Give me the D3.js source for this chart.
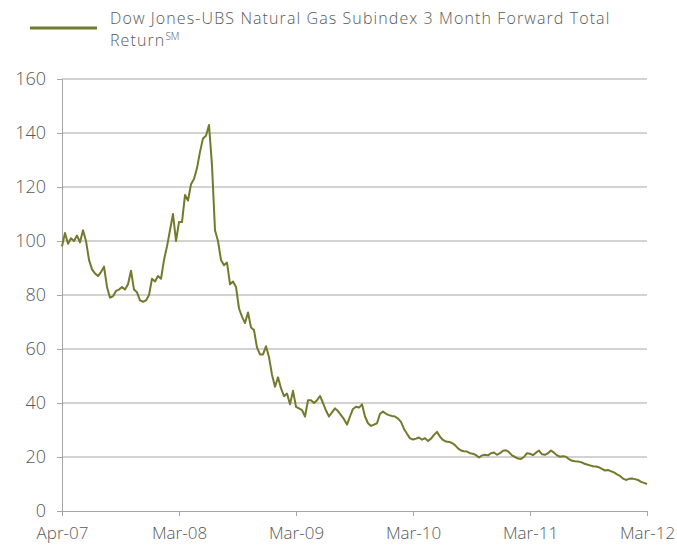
<!DOCTYPE html>
<html><head><meta charset="utf-8">
<script src="https://cdn.jsdelivr.net/npm/d3@7"></script>
<style>body{margin:0;background:#fff}svg{display:block}</style></head>
<body><svg id="c" width="677" height="547"></svg>
<script>
const legendLine1 = "Dow Jones-UBS Natural Gas Subindex 3 Month Forward Total";
const legendLine2 = "Return";
const legendSup = "SM";
const xTickLabels = ["Apr-07","Mar-08","Mar-09","Mar-10","Mar-11","Mar-12"];
const yTicks = [0,20,40,60,80,100,120,140,160];
const values = [
98,103,99,101,100,102,99.5,104,100,93,89.5,88,87,88.5,90.5,83,79,79.5,81.5,82,
83,82,84,89,82,81,78,77.5,78,80,86,85,87,86,93,98,104,110,100,107,
107,117,115,121,123,127,133,138,139,143,128,104,100,93,91,92,84,85,83,75,
72,69.6,73.5,68,67,60.5,58,58,61,57,50.5,46,49.5,45.5,42.5,43.5,39.5,44.5,38.6,38,
37.4,35,41,41,40,41,42.6,40,37.2,35,36.5,38,37,35.5,34,32,35,37.8,38.6,38.3,
39.5,35,32.5,31.5,32,32.5,36,36.8,36,35.5,35.2,35,34.2,33,30.4,28.6,26.9,26.5,26.8,27.2,
26.4,27,25.9,26.8,28.2,29.3,27.5,26.3,25.7,25.6,25.2,24.4,23.2,22.4,22.1,22,21.4,21.2,20.7,19.8,
20.6,20.8,20.6,21.4,21.7,20.8,21.4,22.3,22.5,21.8,20.6,20,19.4,19.3,20,21.4,21.2,20.7,21.6,22.4,
21,20.8,21.4,22.4,21.6,20.6,20.1,20.3,20.1,19.2,18.6,18.4,18.3,18.1,17.6,17.2,16.9,16.6,16.5,16.2,
15.6,15,15.2,14.7,14.3,13.6,13,12,11.5,11.9,12,11.8,11.5,10.8,10.4,10
];

const svg = d3.select("#c");
const L = 62, R = 647, T = 79, B = 511;
const lineColor = "#727a2c";
const textColor = "#595959";
const font = "'Open Sans', 'Liberation Sans', sans-serif";

const x = d3.scaleLinear().domain([0, values.length - 1]).range([L, R]);
const xt = d3.scalePoint().domain(xTickLabels).range([L, R]);
const y = d3.scaleLinear().domain([0, 160]).range([B, T]);

// gridlines
svg.append("g").selectAll("line").data(yTicks.filter(d => d > 0)).join("line")
  .attr("x1", L).attr("x2", R).attr("y1", d => y(d)).attr("y2", d => y(d))
  .attr("stroke", "#a6a6a6").attr("stroke-width", 1);

// y axis
const ya = svg.append("g").attr("transform", `translate(${L},0)`)
  .call(d3.axisLeft(y).tickValues(yTicks).tickSize(5).tickPadding(11));
ya.select(".domain").attr("stroke", "#a6a6a6");
ya.selectAll(".tick line").attr("stroke", "#a6a6a6");
ya.selectAll("text").attr("fill", textColor).style("font-family", font)
  .style("font-size", "18px").style("font-weight", 300);

// x axis
const xa = svg.append("g").attr("transform", `translate(0,${B})`)
  .call(d3.axisBottom(xt).tickSize(5).tickPadding(11).tickSizeOuter(0));
xa.select(".domain").attr("stroke", "#a6a6a6");
xa.selectAll(".tick line").attr("stroke", "#a6a6a6");
xa.selectAll("text").attr("fill", textColor).style("font-family", font)
  .style("font-size", "17px").style("font-weight", 300);

// line
svg.append("path").datum(values)
  .attr("fill", "none").attr("stroke", lineColor).attr("stroke-width", 2)
  .attr("stroke-linejoin", "round")
  .attr("d", d3.line().x((d, i) => x(i)).y(d => y(d)));

// legend
svg.append("line").attr("x1", 30).attr("x2", 97).attr("y1", 28).attr("y2", 28)
  .attr("stroke", lineColor).attr("stroke-width", 3);
svg.append("text").attr("x", 110).attr("y", 24).attr("fill", textColor)
  .style("font-family", font).style("font-size", "16px").style("font-weight", 300)
  .style("letter-spacing", "1.1px")
  .text(legendLine1);
const t2 = svg.append("text").attr("x", 110).attr("y", 46).attr("fill", textColor)
  .style("font-family", font).style("font-size", "16px").style("font-weight", 300)
  .style("letter-spacing", "1.1px");
t2.append("tspan").text(legendLine2);
t2.append("tspan").attr("dy", -6).style("font-size", "10px").style("letter-spacing", "0px").text(legendSup);
</script></body></html>
